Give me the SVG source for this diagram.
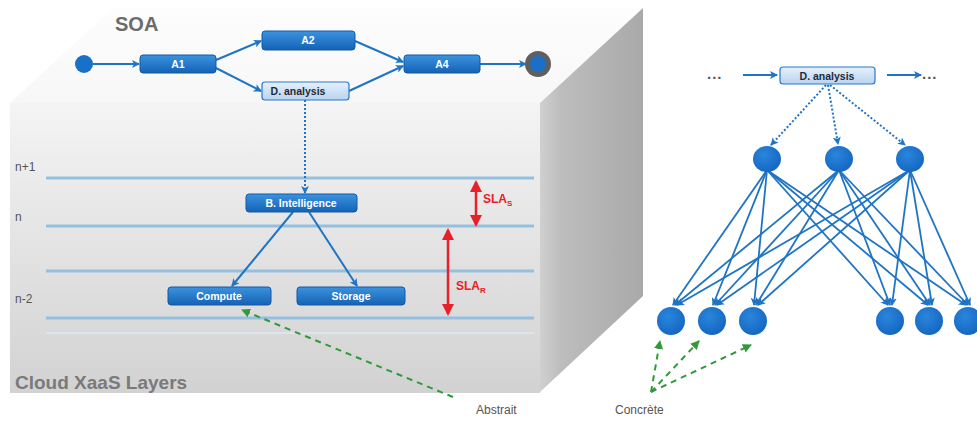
<svg xmlns="http://www.w3.org/2000/svg" width="977" height="421" viewBox="0 0 977 421">
<defs>
<linearGradient id="gFront" x1="0" y1="0" x2="0" y2="1">
<stop offset="0" stop-color="#f4f4f4"/><stop offset="1" stop-color="#d2d2d2"/>
</linearGradient>
<linearGradient id="gTop" x1="0" y1="0" x2="0" y2="1">
<stop offset="0" stop-color="#fdfdfd"/><stop offset="1" stop-color="#f7f7f7"/>
</linearGradient>
<linearGradient id="gSide" x1="0" y1="0" x2="1" y2="0">
<stop offset="0" stop-color="#d0d0d0"/><stop offset="0.2" stop-color="#bdbdbd"/><stop offset="1" stop-color="#a9a9a9"/>
</linearGradient>
<linearGradient id="gBox" x1="0" y1="0" x2="0" y2="1">
<stop offset="0" stop-color="#3b93e0"/><stop offset="1" stop-color="#1462b4"/>
</linearGradient>
<linearGradient id="gLight" x1="0" y1="0" x2="0" y2="1">
<stop offset="0" stop-color="#e6f0fb"/><stop offset="1" stop-color="#b9d3f0"/>
</linearGradient>
<radialGradient id="gNode" cx="0.4" cy="0.35" r="0.7">
<stop offset="0" stop-color="#2a86dc"/><stop offset="1" stop-color="#1465c0"/>
</radialGradient>
<marker id="ab" markerWidth="8" markerHeight="8" refX="7" refY="4" orient="auto" markerUnits="userSpaceOnUse">
<path d="M0,0 L8,4 L0,8 L2,4 Z" fill="#1f74c4"/>
</marker>
<marker id="ar" markerWidth="12" markerHeight="12" refX="10" refY="6" orient="auto-start-reverse" markerUnits="userSpaceOnUse">
<path d="M0,0 L12,6 L0,12 Z" fill="#e8202a"/>
</marker>
<marker id="ag" markerWidth="9" markerHeight="9" refX="8" refY="4.5" orient="auto" markerUnits="userSpaceOnUse">
<path d="M0,0 L9,4.5 L0,9 Z" fill="#2e9a3a"/>
</marker>
</defs>
<style>
.box{fill:url(#gBox);stroke:#1559a4;stroke-width:1}
.lbox{fill:url(#gLight);stroke:#2a78c8;stroke-width:1.2}
.wt{font-family:"Liberation Sans",Arial,sans-serif;font-size:10.5px;font-weight:bold;fill:#ffffff;text-anchor:middle}
.dt{font-family:"Liberation Sans",Arial,sans-serif;font-size:10.5px;font-weight:bold;fill:#1e2a3a;text-anchor:middle}
.lbl{font-family:"Liberation Sans",Arial,sans-serif;font-size:12px;fill:#555}
.con{stroke:#1f74c4;stroke-width:2;fill:none;marker-end:url(#ab)}
.net{stroke:#1f74c4;stroke-width:1.8;fill:none;marker-end:url(#ab)}
.dot{stroke:#1f74c4;stroke-width:2;stroke-dasharray:2 2;fill:none;marker-end:url(#ab)}
.grn{stroke:#2e9a3a;stroke-width:2;stroke-dasharray:6 5;fill:none;marker-end:url(#ag)}
.lay{stroke:#95bfdf;stroke-width:3}
.sla{stroke:#e8202a;stroke-width:2.5;marker-start:url(#ar);marker-end:url(#ar)}
.red{font-family:"Liberation Sans",Arial,sans-serif;font-size:12px;font-weight:bold;fill:#e8202a}
.node{fill:url(#gNode)}
.ell{font-family:"Liberation Sans",Arial,sans-serif;font-size:15px;font-weight:bold;fill:#555;letter-spacing:1px}
</style>
<rect width="977" height="421" fill="#ffffff"/>
<g id="cube">
<polygon points="10,103 540,103 643,8 113,8" fill="url(#gTop)"/>
<polygon points="540,103 643,8 643,296 540,392" fill="url(#gSide)"/>
<rect x="10" y="103" width="530" height="290" fill="url(#gFront)"/>
</g>
<g id="layers">
<line class="lay" x1="46" y1="178" x2="534" y2="178"/>
<line class="lay" x1="46" y1="226" x2="534" y2="226"/>
<line class="lay" x1="46" y1="271" x2="534" y2="271"/>
<line class="lay" x1="46" y1="318" x2="534" y2="318"/>
<line x1="46" y1="333" x2="534" y2="333" stroke="#dde6ee" stroke-width="2"/>
<text class="lbl" x="15" y="171">n+1</text>
<text class="lbl" x="15" y="221">n</text>
<text class="lbl" x="15" y="303">n-2</text>
</g>
<text x="115" y="31" font-family="Liberation Sans,Arial,sans-serif" font-size="20" font-weight="bold" fill="#6b6b6b">SOA</text>
<text x="15" y="389" font-family="Liberation Sans,Arial,sans-serif" font-size="19" font-weight="bold" fill="#7a7a7a">Cloud XaaS Layers</text>
<g id="connectors">
<line class="con" x1="93" y1="64" x2="139" y2="64"/>
<line class="con" x1="216" y1="60" x2="261" y2="41"/>
<line class="con" x1="216" y1="68" x2="261" y2="91"/>
<line class="con" x1="355" y1="41" x2="403" y2="62"/>
<line class="con" x1="349" y1="91" x2="403" y2="66"/>
<line class="con" x1="480" y1="64" x2="526" y2="64"/>
<line class="dot" x1="305" y1="100" x2="305" y2="193"/>
<line class="con" x1="293" y1="212" x2="232" y2="286"/>
<line class="con" x1="309" y1="212" x2="357" y2="286"/>
<line class="sla" x1="476" y1="182" x2="476" y2="225"/>
<line class="sla" x1="448" y1="230" x2="448" y2="314"/>
<line class="grn" x1="453" y1="397" x2="242" y2="310"/>
<line class="con" x1="743" y1="75" x2="777" y2="75"/>
<line class="con" x1="887" y1="75" x2="921" y2="75"/>
<line class="dot" x1="826" y1="85" x2="771" y2="145"/>
<line class="dot" x1="828" y1="85" x2="838" y2="144"/>
<line class="dot" x1="830" y1="85" x2="905" y2="145"/>
<line class="net" x1="767" y1="170" x2="673" y2="305"/>
<line class="net" x1="767" y1="170" x2="713" y2="305"/>
<line class="net" x1="767" y1="170" x2="754" y2="305"/>
<line class="net" x1="767" y1="170" x2="888" y2="305"/>
<line class="net" x1="767" y1="170" x2="928" y2="305"/>
<line class="net" x1="767" y1="170" x2="966" y2="305"/>
<line class="net" x1="839" y1="170" x2="675" y2="305"/>
<line class="net" x1="839" y1="170" x2="715" y2="305"/>
<line class="net" x1="839" y1="170" x2="756" y2="305"/>
<line class="net" x1="839" y1="170" x2="890" y2="305"/>
<line class="net" x1="839" y1="170" x2="930" y2="305"/>
<line class="net" x1="839" y1="170" x2="968" y2="305"/>
<line class="net" x1="910" y1="170" x2="677" y2="305"/>
<line class="net" x1="910" y1="170" x2="717" y2="305"/>
<line class="net" x1="910" y1="170" x2="758" y2="305"/>
<line class="net" x1="910" y1="170" x2="892" y2="305"/>
<line class="net" x1="910" y1="170" x2="932" y2="305"/>
<line class="net" x1="910" y1="170" x2="970" y2="305"/>
<line class="grn" x1="651" y1="392" x2="660" y2="341"/>
<line class="grn" x1="651" y1="392" x2="699" y2="341"/>
<line class="grn" x1="651" y1="392" x2="751" y2="345"/>
</g>
<g id="start"><circle cx="84" cy="64" r="9" fill="#1a6fc8"/></g>
<g id="A1"><rect class="box" x="140" y="55" width="76" height="18" rx="3"/><text class="wt" x="178" y="68">A1</text></g>
<g id="A2"><rect class="box" x="262" y="31" width="93" height="19" rx="3"/><text class="wt" x="308" y="44">A2</text></g>
<g id="danalysis"><rect class="lbox" x="262" y="82" width="87" height="18" rx="3"/><text class="dt" x="298" y="95">D. analysis</text></g>
<g id="A4"><rect class="box" x="404" y="55" width="76" height="18" rx="3"/><text class="wt" x="442" y="68">A4</text></g>
<g id="end"><circle cx="538" cy="64" r="13" fill="#5f5f5f"/><circle cx="538" cy="64" r="8" fill="#1a6fc8"/></g>
<g id="bintelligence"><rect class="box" x="246" y="194" width="111" height="18" rx="3"/><text class="wt" x="301" y="207">B. Intelligence</text></g>
<g id="compute"><rect class="box" x="168" y="287" width="103" height="18" rx="3"/><text class="wt" x="219" y="300">Compute</text></g>
<g id="storage"><rect class="box" x="297" y="287" width="108" height="18" rx="3"/><text class="wt" x="351" y="300">Storage</text></g>
<g id="slas"><text class="red" x="483" y="203">SLA<tspan font-size="8" dy="3">S</tspan></text></g>
<g id="slar"><text class="red" x="456" y="290">SLA<tspan font-size="8" dy="3">R</tspan></text></g>
<text class="lbl" x="476" y="414">Abstrait</text>
<g id="dots-left"><text class="ell" x="707" y="79">...</text></g>
<g id="danalysis2"><rect class="lbox" x="780" y="67" width="95" height="17" rx="3"/><text class="dt" x="827" y="79.5">D. analysis</text></g>
<g id="dots-right"><text class="ell" x="922" y="79">...</text></g>
<g id="t1"><ellipse class="node" cx="767" cy="159" rx="14" ry="13"/></g>
<g id="t2"><ellipse class="node" cx="839" cy="159" rx="14" ry="13"/></g>
<g id="t3"><ellipse class="node" cx="910" cy="159" rx="14" ry="13"/></g>
<g id="b1"><ellipse class="node" cx="671" cy="321" rx="14" ry="14"/></g>
<g id="b2"><ellipse class="node" cx="712" cy="321" rx="14" ry="14"/></g>
<g id="b3"><ellipse class="node" cx="753" cy="321" rx="14" ry="14"/></g>
<g id="b4"><ellipse class="node" cx="890" cy="321" rx="14" ry="14"/></g>
<g id="b5"><ellipse class="node" cx="929" cy="321" rx="14" ry="14"/></g>
<g id="b6"><ellipse class="node" cx="968" cy="321" rx="14" ry="14"/></g>
<text class="lbl" x="615" y="414">Concrète</text>
</svg>
